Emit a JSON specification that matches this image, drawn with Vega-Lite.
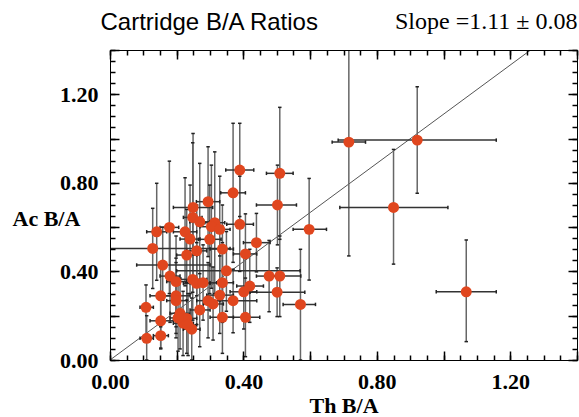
{
  "$schema": "https://vega.github.io/schema/vega-lite/v6.json",
  "width": 467,
  "height": 310,
  "autosize": "none",
  "padding": {"left": 110, "top": 50, "right": 2, "bottom": 57},
  "background": "white",
  "config": {"view": {"stroke": null}},
  "datasets": {
    "pts": [
      {"x": 0.389, "y": 0.858, "xlo": 0.347, "xhi": 0.431, "ylo": 0.648, "yhi": 1.069},
      {"x": 0.509, "y": 0.843, "xlo": 0.469, "xhi": 0.549, "ylo": 0.545, "yhi": 1.141},
      {"x": 0.369, "y": 0.755, "xlo": 0.332, "xhi": 0.406, "ylo": 0.441, "yhi": 1.069},
      {"x": 0.502, "y": 0.700, "xlo": 0.439, "xhi": 0.559, "ylo": 0.520, "yhi": 0.880},
      {"x": 0.294, "y": 0.715, "xlo": 0.259, "xhi": 0.329, "ylo": 0.467, "yhi": 0.963},
      {"x": 0.249, "y": 0.689, "xlo": 0.190, "xhi": 0.308, "ylo": 0.357, "yhi": 1.023},
      {"x": 0.248, "y": 0.644, "xlo": 0.220, "xhi": 0.276, "ylo": 0.306, "yhi": 0.981},
      {"x": 0.269, "y": 0.624, "xlo": 0.239, "xhi": 0.299, "ylo": 0.360, "yhi": 0.888},
      {"x": 0.314, "y": 0.620, "xlo": 0.284, "xhi": 0.344, "ylo": 0.300, "yhi": 0.940},
      {"x": 0.304, "y": 0.602, "xlo": 0.270, "xhi": 0.338, "ylo": 0.324, "yhi": 0.880},
      {"x": 0.329, "y": 0.590, "xlo": 0.300, "xhi": 0.360, "ylo": 0.350, "yhi": 0.830},
      {"x": 0.389, "y": 0.613, "xlo": 0.350, "xhi": 0.430, "ylo": 0.400, "yhi": 0.830},
      {"x": 0.597, "y": 0.590, "xlo": 0.549, "xhi": 0.649, "ylo": 0.361, "yhi": 0.820},
      {"x": 0.140, "y": 0.579, "xlo": 0.110, "xhi": 0.170, "ylo": 0.360, "yhi": 0.798},
      {"x": 0.178, "y": 0.599, "xlo": 0.150, "xhi": 0.206, "ylo": 0.300, "yhi": 0.898},
      {"x": 0.225, "y": 0.579, "xlo": 0.190, "xhi": 0.260, "ylo": 0.335, "yhi": 0.823},
      {"x": 0.240, "y": 0.546, "xlo": 0.210, "xhi": 0.270, "ylo": 0.300, "yhi": 0.790},
      {"x": 0.299, "y": 0.545, "xlo": 0.265, "xhi": 0.333, "ylo": 0.300, "yhi": 0.790},
      {"x": 0.439, "y": 0.530, "xlo": 0.400, "xhi": 0.480, "ylo": 0.398, "yhi": 0.662},
      {"x": 0.128, "y": 0.504, "xlo": 0.000, "xhi": 0.360, "ylo": 0.323, "yhi": 0.685},
      {"x": 0.260, "y": 0.493, "xlo": 0.230, "xhi": 0.290, "ylo": 0.290, "yhi": 0.700},
      {"x": 0.230, "y": 0.474, "xlo": 0.200, "xhi": 0.260, "ylo": 0.270, "yhi": 0.680},
      {"x": 0.337, "y": 0.501, "xlo": 0.300, "xhi": 0.370, "ylo": 0.300, "yhi": 0.700},
      {"x": 0.406, "y": 0.479, "xlo": 0.370, "xhi": 0.440, "ylo": 0.300, "yhi": 0.660},
      {"x": 0.158, "y": 0.429, "xlo": 0.080, "xhi": 0.300, "ylo": 0.270, "yhi": 0.600},
      {"x": 0.349, "y": 0.403, "xlo": 0.200, "xhi": 0.570, "ylo": 0.220, "yhi": 0.580},
      {"x": 0.180, "y": 0.379, "xlo": 0.150, "xhi": 0.210, "ylo": 0.170, "yhi": 0.590},
      {"x": 0.198, "y": 0.354, "xlo": 0.170, "xhi": 0.230, "ylo": 0.150, "yhi": 0.560},
      {"x": 0.248, "y": 0.364, "xlo": 0.210, "xhi": 0.290, "ylo": 0.180, "yhi": 0.550},
      {"x": 0.260, "y": 0.346, "xlo": 0.220, "xhi": 0.300, "ylo": 0.160, "yhi": 0.530},
      {"x": 0.279, "y": 0.349, "xlo": 0.240, "xhi": 0.320, "ylo": 0.180, "yhi": 0.520},
      {"x": 0.337, "y": 0.349, "xlo": 0.300, "xhi": 0.370, "ylo": 0.170, "yhi": 0.530},
      {"x": 0.477, "y": 0.379, "xlo": 0.439, "xhi": 0.515, "ylo": 0.218, "yhi": 0.540},
      {"x": 0.509, "y": 0.379, "xlo": 0.470, "xhi": 0.572, "ylo": 0.196, "yhi": 0.560},
      {"x": 0.419, "y": 0.334, "xlo": 0.380, "xhi": 0.460, "ylo": 0.170, "yhi": 0.500},
      {"x": 0.401, "y": 0.308, "xlo": 0.360, "xhi": 0.440, "ylo": 0.140, "yhi": 0.480},
      {"x": 0.501, "y": 0.306, "xlo": 0.420, "xhi": 0.584, "ylo": 0.196, "yhi": 0.416},
      {"x": 0.152, "y": 0.290, "xlo": 0.120, "xhi": 0.190, "ylo": 0.150, "yhi": 0.430},
      {"x": 0.198, "y": 0.290, "xlo": 0.160, "xhi": 0.240, "ylo": 0.120, "yhi": 0.460},
      {"x": 0.329, "y": 0.293, "xlo": 0.290, "xhi": 0.370, "ylo": 0.120, "yhi": 0.470},
      {"x": 0.294, "y": 0.268, "xlo": 0.260, "xhi": 0.330, "ylo": 0.100, "yhi": 0.440},
      {"x": 0.309, "y": 0.253, "xlo": 0.280, "xhi": 0.340, "ylo": 0.090, "yhi": 0.420},
      {"x": 0.369, "y": 0.268, "xlo": 0.300, "xhi": 0.440, "ylo": 0.123, "yhi": 0.410},
      {"x": 0.198, "y": 0.268, "xlo": 0.170, "xhi": 0.230, "ylo": 0.100, "yhi": 0.440},
      {"x": 0.269, "y": 0.226, "xlo": 0.240, "xhi": 0.300, "ylo": 0.060, "yhi": 0.390},
      {"x": 0.108, "y": 0.238, "xlo": 0.090, "xhi": 0.130, "ylo": 0.102, "yhi": 0.339},
      {"x": 0.571, "y": 0.251, "xlo": 0.519, "xhi": 0.616, "ylo": 0.000, "yhi": 0.500},
      {"x": 0.210, "y": 0.211, "xlo": 0.180, "xhi": 0.240, "ylo": 0.050, "yhi": 0.370},
      {"x": 0.230, "y": 0.188, "xlo": 0.200, "xhi": 0.260, "ylo": 0.030, "yhi": 0.350},
      {"x": 0.152, "y": 0.177, "xlo": 0.120, "xhi": 0.190, "ylo": 0.050, "yhi": 0.300},
      {"x": 0.337, "y": 0.193, "xlo": 0.300, "xhi": 0.370, "ylo": 0.030, "yhi": 0.360},
      {"x": 0.406, "y": 0.193, "xlo": 0.344, "xhi": 0.449, "ylo": 0.015, "yhi": 0.370},
      {"x": 0.219, "y": 0.166, "xlo": 0.190, "xhi": 0.250, "ylo": 0.020, "yhi": 0.310},
      {"x": 0.245, "y": 0.139, "xlo": 0.220, "xhi": 0.270, "ylo": 0.000, "yhi": 0.280},
      {"x": 0.110, "y": 0.098, "xlo": 0.090, "xhi": 0.130, "ylo": 0.000, "yhi": 0.200},
      {"x": 0.152, "y": 0.110, "xlo": 0.130, "xhi": 0.175, "ylo": 0.054, "yhi": 0.166},
      {"x": 0.234, "y": 0.158, "xlo": 0.210, "xhi": 0.260, "ylo": 0.020, "yhi": 0.300},
      {"x": 0.204, "y": 0.190, "xlo": 0.180, "xhi": 0.230, "ylo": 0.040, "yhi": 0.340},
      {"x": 0.716, "y": 0.984, "xlo": 0.666, "xhi": 0.766, "ylo": 0.470, "yhi": 1.500},
      {"x": 0.921, "y": 0.993, "xlo": 0.684, "xhi": 1.158, "ylo": 0.753, "yhi": 1.234},
      {"x": 0.850, "y": 0.689, "xlo": 0.689, "xhi": 1.013, "ylo": 0.433, "yhi": 0.951},
      {"x": 1.068, "y": 0.308, "xlo": 0.978, "xhi": 1.158, "ylo": 0.083, "yhi": 0.542}
    ],
    "fit": [
      {"lx": 0, "ly": 0},
      {"lx": 1.261, "ly": 1.4}
    ]
  },
  "layer": [
    {
      "data": {"name": "fit"},
      "mark": {"type": "line", "color": "#555555", "strokeWidth": 1, "clip": true},
      "encoding": {
        "x": {"field": "lx", "type": "quantitative",
          "scale": {"domain": [0, 1.4], "nice": false, "zero": false},
          "axis": {
            "orient": "top", "labels": false, "grid": false, "zindex": 2,
            "values": [0,0.2,0.4,0.6,0.8,1,1.2,1.4],
            "tickSize": -9, "tickColor": "#000000", "tickWidth": 1.5, "domainColor": "#000000",
            "title": "Cartridge B/A Ratios", "titleFont": "Liberation Sans", "titleFontWeight": "normal", "titleFontSize": 24, "titleColor": "#000000",
            "titleAlign": "left", "titleAnchor": "start", "titleBaseline": "alphabetic", "titleX": -10, "titleY": -21
          }
        },
        "y": {"field": "ly", "type": "quantitative",
          "scale": {"domain": [0, 1.4], "nice": false, "zero": false},
          "axis": {
            "orient": "right", "labels": false, "grid": false, "zindex": 2,
            "values": [0,0.2,0.4,0.6,0.8,1,1.2,1.4],
            "tickSize": -9, "tickColor": "#000000", "tickWidth": 1.5, "domainColor": "#000000",
            "title": "Slope =1.11 ± 0.08", "titleFont": "Liberation Serif", "titleFontWeight": "normal", "titleFontSize": 24, "titleColor": "#000000",
            "titleAngle": 0, "titleAlign": "right", "titleBaseline": "alphabetic", "titleX": 0, "titleY": -22
          }
        }
      }
    },
    {
      "data": {"name": "pts"},
      "mark": {"type": "rule", "color": "#666666", "strokeWidth": 1.5, "clip": true},
      "encoding": {
        "x": {"field": "x", "type": "quantitative",
          "axis": {
            "orient": "top", "labels": false, "grid": false, "title": null, "zindex": 2,
            "values": [0,0.05,0.1,0.15,0.2,0.25,0.3,0.35,0.4,0.45,0.5,0.55,0.6,0.65,0.7,0.75,0.8,0.85,0.9,0.95,1,1.05,1.1,1.15,1.2,1.25,1.3,1.35,1.4],
            "tickSize": -5, "tickColor": "#000000", "tickWidth": 1.5, "domainColor": "#000000"
          }
        },
        "y": {"field": "ylo", "type": "quantitative",
          "axis": {
            "orient": "right", "labels": false, "grid": false, "title": null, "zindex": 2,
            "values": [0,0.05,0.1,0.15,0.2,0.25,0.3,0.35,0.4,0.45,0.5,0.55,0.6,0.65,0.7,0.75,0.8,0.85,0.9,0.95,1,1.05,1.1,1.15,1.2,1.25,1.3,1.35,1.4],
            "tickSize": -5, "tickColor": "#000000", "tickWidth": 1.5, "domainColor": "#000000"
          }
        },
        "y2": {"field": "yhi"}
      }
    },
    {
      "data": {"name": "pts"},
      "mark": {"type": "rule", "color": "#333333", "strokeWidth": 1.5, "clip": true},
      "encoding": {
        "x": {"field": "xlo", "type": "quantitative",
          "axis": {
            "orient": "bottom", "labels": false, "grid": false, "title": null, "zindex": 2,
            "values": [0,0.05,0.1,0.15,0.2,0.25,0.3,0.35,0.4,0.45,0.5,0.55,0.6,0.65,0.7,0.75,0.8,0.85,0.9,0.95,1,1.05,1.1,1.15,1.2,1.25,1.3,1.35,1.4],
            "tickSize": -5, "tickColor": "#000000", "tickWidth": 1.5, "domainColor": "#000000"
          }
        },
        "x2": {"field": "xhi"},
        "y": {"field": "y", "type": "quantitative",
          "axis": {
            "orient": "left", "labels": false, "grid": false, "title": null, "zindex": 2,
            "values": [0,0.05,0.1,0.15,0.2,0.25,0.3,0.35,0.4,0.45,0.5,0.55,0.6,0.65,0.7,0.75,0.8,0.85,0.9,0.95,1,1.05,1.1,1.15,1.2,1.25,1.3,1.35,1.4],
            "tickSize": -5, "tickColor": "#000000", "tickWidth": 1.5, "domainColor": "#000000"
          }
        }
      }
    },
    {
      "data": {"name": "pts"},
      "mark": {"type": "point", "shape": "M -1 0 L 1 0", "filled": false, "stroke": "#222222", "strokeWidth": 1.5, "size": 12, "opacity": 1, "clip": true},
      "encoding": {
        "x": {"field": "x", "type": "quantitative", "axis": null},
        "y": {"field": "ylo", "type": "quantitative", "axis": null}
      }
    },
    {
      "data": {"name": "pts"},
      "mark": {"type": "point", "shape": "M -1 0 L 1 0", "filled": false, "stroke": "#222222", "strokeWidth": 1.5, "size": 12, "opacity": 1, "clip": true},
      "encoding": {
        "x": {"field": "x", "type": "quantitative", "axis": null},
        "y": {"field": "yhi", "type": "quantitative", "axis": null}
      }
    },
    {
      "data": {"name": "pts"},
      "mark": {"type": "point", "shape": "M 0 -1 L 0 1", "filled": false, "stroke": "#222222", "strokeWidth": 1.5, "size": 12, "opacity": 1, "clip": true},
      "encoding": {
        "x": {"field": "xlo", "type": "quantitative", "axis": null},
        "y": {"field": "y", "type": "quantitative", "axis": null}
      }
    },
    {
      "data": {"name": "pts"},
      "mark": {"type": "point", "shape": "M 0 -1 L 0 1", "filled": false, "stroke": "#222222", "strokeWidth": 1.5, "size": 12, "opacity": 1, "clip": true},
      "encoding": {
        "x": {"field": "xhi", "type": "quantitative", "axis": null},
        "y": {"field": "y", "type": "quantitative", "axis": null}
      }
    },
    {
      "data": {"name": "pts"},
      "mark": {"type": "circle", "color": "#E0461E", "opacity": 1, "size": 120, "clip": true},
      "encoding": {
        "x": {"field": "x", "type": "quantitative",
          "scale": {"domain": [0, 1.4], "nice": false, "zero": false},
          "axis": {
            "orient": "bottom", "grid": false, "zindex": 2,
            "values": [0,0.2,0.4,0.6,0.8,1,1.2,1.4],
            "labelExpr": "abs(datum.value/0.4-round(datum.value/0.4))<0.01 ? format(datum.value,'.2f') : ''",
            "labelFont": "Liberation Serif", "labelFontWeight": "bold", "labelFontSize": 22, "labelColor": "#000000",
            "labelPadding": 20, "labelOverlap": false, "labelFlush": false, "labelBaseline": "top",
            "tickSize": -9, "tickColor": "#000000", "tickWidth": 1.5, "domainColor": "#000000",
            "title": "Th B/A", "titleFont": "Liberation Serif", "titleFontWeight": "bold", "titleFontSize": 22, "titleColor": "#000000",
            "titleBaseline": "alphabetic", "titleY": 52
          }
        },
        "y": {"field": "y", "type": "quantitative",
          "scale": {"domain": [0, 1.4], "nice": false, "zero": false},
          "axis": {
            "orient": "left", "grid": false, "zindex": 2,
            "values": [0,0.2,0.4,0.6,0.8,1,1.2,1.4],
            "labelExpr": "abs(datum.value/0.4-round(datum.value/0.4))<0.01 ? format(datum.value,'.2f') : ''",
            "labelFont": "Liberation Serif", "labelFontWeight": "bold", "labelFontSize": 22, "labelColor": "#000000",
            "labelPadding": 21, "labelOverlap": false, "labelFlush": false,
            "tickSize": -9, "tickColor": "#000000", "tickWidth": 1.5, "domainColor": "#000000",
            "title": "Ac B/A", "titleFont": "Liberation Serif", "titleFontWeight": "bold", "titleFontSize": 22, "titleColor": "#000000",
            "titleAngle": 0, "titleAlign": "left", "titleBaseline": "middle", "titleX": -98, "titleY": 168
          }
        }
      }
    }
  ],
  "resolve": {"axis": {"x": "independent", "y": "independent"}}
}
